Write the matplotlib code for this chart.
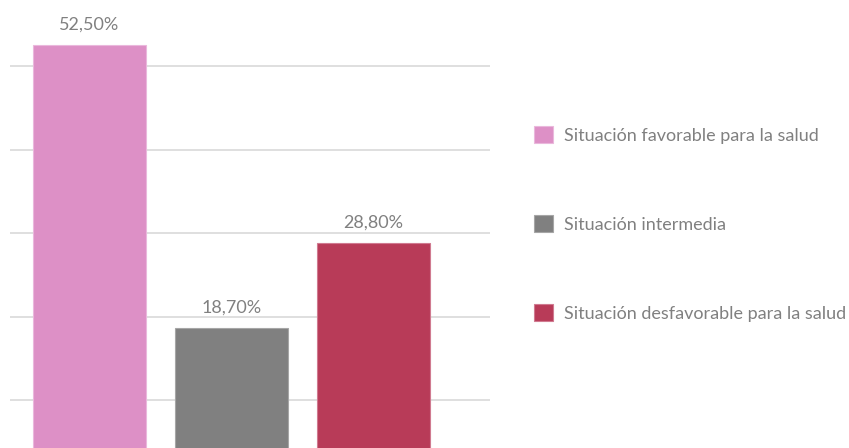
import matplotlib.pyplot as plt
from matplotlib.patches import Patch

categorias = ["Situación favorable para la salud", "Situación intermedia",
              "Situación desfavorable para la salud"]
valores = [52.5, 18.7, 28.8]
etiquetas = ["52,50%", "18,70%", "28,80%"]
colores = ["#DD90C6", "#808080", "#B83B58"]
bordes = ["#EAB8DC", "#A6A6A6", "#D07A90"]

plt.rcParams['font.family'] = ['Lato', 'DejaVu Sans']
texto = "#808080"

fig = plt.figure(figsize=(8.49, 4.48), dpi=100)
ax = fig.add_axes([10 / 849, 0, 480 / 849, 1])

x = list(range(len(valores)))
barras = ax.bar(x, valores, width=0.796, color=colores, edgecolor=bordes,
                linewidth=0.8, zorder=3)

for xi, v, et in zip(x, valores, etiquetas):
    ax.annotate(et, (xi, v), xytext=(0, 9), textcoords="offset points",
                ha="center", va="bottom", color=texto, fontsize=13)

ax.set_xlim(-0.56, 2.82)
ax.set_ylim(4.3, 57.9)
ax.set_yticks([10, 20, 30, 40, 50])
ax.yaxis.grid(True, color="#D9D9D9", linewidth=1.2, zorder=0)
ax.tick_params(left=False, bottom=False, labelleft=False, labelbottom=False)
for s in ax.spines.values():
    s.set_visible(False)

handles = [Patch(facecolor=c, edgecolor=b, linewidth=0.8) for c, b in zip(colores, bordes)]
fig.legend(handles, categorias, loc="upper left", bbox_to_anchor=(525 / 849, 1 - 117 / 448),
           frameon=False, fontsize=13, labelcolor=texto, handlelength=1.05,
           handleheight=1.05, handletextpad=0.6, labelspacing=3.96, borderpad=0)

fig.savefig("out.png", dpi=100)
